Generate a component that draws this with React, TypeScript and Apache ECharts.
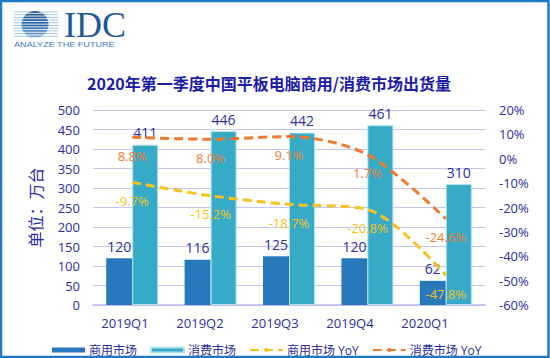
import React, { useEffect, useRef } from "react";
import * as echarts from "echarts";

const categories = ["2019Q1", "2019Q2", "2019Q3", "2019Q4", "2020Q1"];
const commercial = [120, 116, 125, 120, 62];
const consumer = [411, 446, 442, 461, 310];
const commercialYoY = [-9.7, -15.2, -18.7, -20.8, -47.8];
const consumerYoY = [8.8, 8.0, 9.1, 1.7, -24.6];
const seriesNames = ["商用市场", "消费市场", "商用市场 YoY", "消费市场 YoY"];
const titleText = "2020年第一季度中国平板电脑商用/消费市场出货量";
const yName = "单位：万台";

const TXT = "#2d2d9c";
const FONT = "'Open Sans','Noto Sans CJK SC',sans-serif";
const CJK = "'Noto Sans CJK SC',sans-serif";

function logo() {
  const els: any[] = [];
  const cx = 35, cy = 24.5, r = 13.5;
  for (let i = 0; i < 10; i++) {
    const y = 12 + i * 2.7;
    els.push({ type: "line", shape: { x1: 14, y1: y, x2: 58, y2: y }, style: { stroke: "#a9c6e6", lineWidth: 1 }, silent: true });
  }
  els.push({
    type: "circle", shape: { cx, cy, r },
    style: { fill: new echarts.graphic.LinearGradient(0, 0, 0, 1, [
      { offset: 0, color: "#1d5690" }, { offset: 0.55, color: "#2a68a8" }, { offset: 1, color: "#7fb0dc" }]) },
    silent: true,
  });
  for (let i = 0; i < 10; i++) {
    const y = 12 + i * 2.7 + 1.35;
    const d = Math.abs(y - cy);
    if (d >= r) continue;
    const h = Math.sqrt(r * r - d * d);
    els.push({ type: "line", shape: { x1: cx - h, y1: y, x2: cx + h, y2: y }, style: { stroke: "#ffffff", lineWidth: 0.9 }, silent: true });
  }
  els.push({
    type: "text", x: 64, y: 25,
    style: { text: "IDC", font: "36px 'Liberation Serif', serif", fill: "#1d5a96", verticalAlign: "middle", align: "left" },
    silent: true,
  });
  els.push({
    type: "text", x: 14, y: 45, scaleX: 1.3,
    style: { text: "ANALYZE THE FUTURE", font: "7px 'Liberation Sans', sans-serif", fill: "#3a7bbd", verticalAlign: "middle", align: "left" },
    silent: true,
  });
  return els;
}

export default function App() {
  const ref = useRef<HTMLDivElement>(null);
  useEffect(() => {
    if (!ref.current) return;
    const chart = echarts.init(ref.current, undefined, { renderer: "svg" });
    const grid = { left: 93, right: 65, top: 110, bottom: 53 };
    const lineLabel = (color: string) => ({
      show: true, position: "bottom", distance: 12, color, fontSize: 13, fontFamily: FONT,
      formatter: (p: any) => Number(p.value).toFixed(1) + "%",
    });
    const option: any = {
      animation: false,
      backgroundColor: "#ffffff",
      title: {
        text: titleText, left: 82, top: 70,
        textStyle: { fontSize: 16, fontWeight: "bold", color: "#1c1ca8", fontFamily: CJK },
      },
      grid: [grid, { left: 87.5, right: 87.5, top: 110, bottom: 53 }],
      legend: {
        left: 47, top: 339, itemGap: 13, itemWidth: 33, itemHeight: 5,
        textStyle: { color: TXT, fontSize: 12, fontFamily: FONT, padding: [0, 0, 0, -1] },
        data: [
          { name: seriesNames[0], icon: "rect" },
          { name: seriesNames[1], icon: "rect" },
          { name: seriesNames[2] },
          { name: seriesNames[3] },
        ],
      },
      xAxis: [
        {
          type: "category", data: categories, gridIndex: 0,
          axisLine: { lineStyle: { color: "#b8b8f0", width: 1.5 } },
          axisTick: { show: false }, axisLabel: { show: false },
        },
        {
          type: "category", data: categories, gridIndex: 1,
          axisLine: { show: false }, axisTick: { show: false },
          axisLabel: { color: TXT, fontSize: 13, fontFamily: FONT, margin: 11 },
        },
      ],
      yAxis: [
        {
          type: "value", min: 0, max: 500, interval: 50, gridIndex: 0,
          name: yName, nameLocation: "middle", nameGap: 50, nameMoveOverlap: false,
          nameTextStyle: { color: TXT, fontSize: 16, fontFamily: CJK },
          axisLine: { show: false }, axisTick: { show: false },
          axisLabel: { color: TXT, fontSize: 13, fontFamily: FONT, margin: 13 },
          splitLine: { lineStyle: { color: "#c4c4f2", width: 1.2 } },
        },
        {
          type: "value", min: -60, max: 20, interval: 10, gridIndex: 0, position: "right",
          axisLine: { show: false }, axisTick: { show: false },
          axisLabel: { color: TXT, fontSize: 13, fontFamily: FONT, margin: 14, formatter: "{value}%" },
          splitLine: { show: false },
        },
        { type: "value", gridIndex: 1, show: false },
      ],
      series: [
        {
          name: seriesNames[0], type: "bar", data: commercial, barWidth: 26, barGap: "0%",
          itemStyle: { color: "#2878bc" },
          label: { show: true, position: "top", distance: 5, color: TXT, fontSize: 14, fontFamily: FONT },
          z: 2,
        },
        {
          name: seriesNames[1], type: "bar", data: consumer, barWidth: 26, barGap: "0%",
          itemStyle: { color: "#35abc7", borderColor: "#b4e2ec", borderWidth: 1 },
          label: { show: true, position: "top", distance: 5, color: TXT, fontSize: 14, fontFamily: FONT },
          z: 2,
        },
        {
          name: seriesNames[2], type: "line", yAxisIndex: 1, data: commercialYoY, smooth: 0.3,
          symbol: "circle", symbolSize: 0, showSymbol: true, color: "#f7c21e",
          lineStyle: { color: "#f7c21e", width: 3, type: [9, 5] },
          label: lineLabel("#f5c21a"),
          z: 5,
        },
        {
          name: seriesNames[3], type: "line", yAxisIndex: 1, data: consumerYoY, smooth: 0.3,
          symbol: "circle", symbolSize: 0, showSymbol: true, color: "#f07a2e",
          lineStyle: { color: "#f07a2e", width: 3, type: [9, 5] },
          label: lineLabel("#f27c34"),
          z: 5,
        },
      ],
      graphic: [
        ...logo(),
        { type: "rect", shape: { x: 1, y: 1, width: 547.5, height: 356 }, style: { fill: "none", stroke: "#1f78c8", lineWidth: 2.5 }, silent: true, z: 100 },
      ],
    };
    chart.setOption(option);
    return () => chart.dispose();
  }, []);
  return <div ref={ref} style={{ position: "fixed", left: 0, top: 0, width: 550, height: 358 }} />;
}
